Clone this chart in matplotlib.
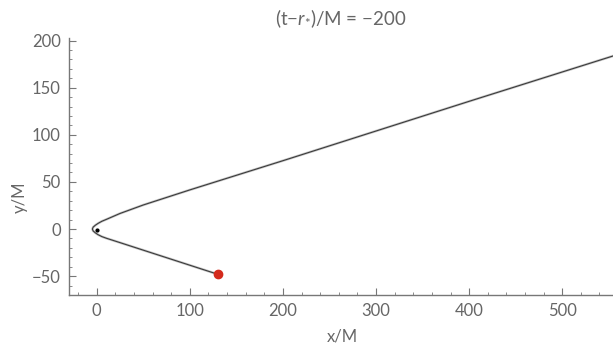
import matplotlib
matplotlib.use("Agg")
import matplotlib.pyplot as plt
from matplotlib.ticker import MultipleLocator

# trajectory (comes in from upper right, turns near the origin)
traj_x = [554.5, 400, 300, 200, 100, 50, 25, 11, 5.5, 1.5, -1.5, -3.8, -4.6,
          -3.8, -1.5, 1.5, 5.5, 10.5, 25, 60, 130.4]
traj_y = [183.6, 135.5, 104, 72.5, 41.5, 25.5, 16.5, 10.5, 8.2, 6, 4, 2, 0,
          -2, -4, -6, -8, -9.8, -14.4, -25.6, -48.1]

# current position and the central object
body_x, body_y = [130.4], [-48.1]
center_x, center_y = [0], [-1]

x_ticks = [0, 100, 200, 300, 400, 500]
y_ticks = [-50, 0, 50, 100, 150, 200]

plt.rcParams["font.family"] = ["Lato", "DejaVu Sans"]
plt.rcParams["mathtext.fontset"] = "custom"
plt.rcParams["mathtext.rm"] = "Lato"
plt.rcParams["mathtext.it"] = "Lato:italic"

grey = "#666666"

fig = plt.figure(figsize=(6.13, 3.45), dpi=100)
ax = fig.add_axes([0.1126, 0.1449, 0.8874, 0.7458])

ax.plot(traj_x, traj_y, color="#c8c8c8", lw=1.8, solid_capstyle="round", zorder=2)
ax.plot(traj_x, traj_y, color="#3a3a3a", lw=0.8, zorder=3)
ax.plot(body_x, body_y, "o", color="#d42a1c", ms=6, zorder=4)
ax.plot(center_x, center_y, "o", color="black", ms=2, zorder=4)

ax.set_xlim(-29.7, 554.5)
ax.set_ylim(-70, 203)

ax.set_xticks(x_ticks)
ax.set_yticks(y_ticks)
ax.xaxis.set_minor_locator(MultipleLocator(20))
ax.yaxis.set_minor_locator(MultipleLocator(10))
ax.set_yticklabels(["\u221250", "0", "50", "100", "150", "200"])

for s in ["top", "right"]:
    ax.spines[s].set_visible(False)
for s in ["left", "bottom"]:
    ax.spines[s].set_color("#777777")
    ax.spines[s].set_linewidth(1.0)

ax.tick_params(which="major", direction="in", length=5, width=0.8, color="#777777",
               labelcolor=grey, labelsize=12, pad=6)
ax.tick_params(which="minor", direction="in", length=2.5, width=0.6, color="#777777")

ax.set_xlabel("x/M", color=grey, fontsize=12)
ax.set_ylabel("y/M", color=grey, fontsize=12)
ax.xaxis.set_label_coords(0.503, -0.13)
ax.yaxis.set_label_coords(-0.076, 0.38)

ax.set_title(r"(t$-$$r_{*}$)/M = $-$200", color=grey, fontsize=13.5, pad=9)

fig.savefig("out.png", dpi=100)
